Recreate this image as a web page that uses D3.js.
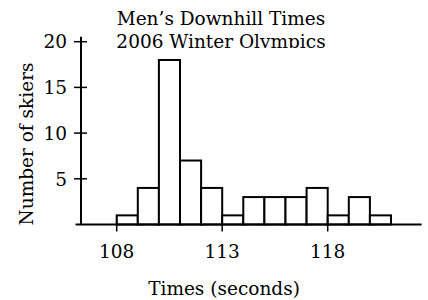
<!DOCTYPE html>
<html>
<head>
<meta charset="utf-8">
<script src="https://cdn.jsdelivr.net/npm/d3@7"></script>
<style>
  body { margin: 0; background: #fff; }
  text { font-family: "DejaVu Serif", "Liberation Serif", serif; fill: #000; }
</style>
</head>
<body>
<svg id="chart" width="428" height="300"></svg>
<script>
// histogram bins (seconds) and number of skiers in each
const binStarts = [108, 109, 110, 111, 112, 113, 114, 115, 116, 117, 118, 119, 120];
const counts    = [1, 4, 18, 7, 4, 1, 3, 3, 3, 4, 1, 3, 1];
const xTicks = [108, 113, 118];
const yTicks = [5, 10, 15, 20];
const titleLines = ["Men\u2019s Downhill Times", "2006 Winter Olympics"];

const svg = d3.select("#chart");
const fs = 18.5;

const x = d3.scaleLinear().domain([108, 118]).range([116.7, 327.7]);
const y = d3.scaleLinear().domain([0, 20]).range([224.5, 41.7]);

// title (second line gets its descenders cut, like the original)
svg.append("defs").append("clipPath").attr("id", "titleclip")
    .append("rect").attr("x", 0).attr("y", 0).attr("width", 428).attr("height", 48);

svg.append("g").attr("clip-path", "url(#titleclip)")
    .selectAll("text")
    .data(titleLines)
    .enter().append("text")
    .attr("x", 221)
    .attr("y", (d, i) => 25 + i * 22.7)
    .attr("text-anchor", "middle")
    .attr("font-size", fs)
    .text(d => d);

// bars
svg.append("g")
    .selectAll("rect")
    .data(binStarts)
    .enter().append("rect")
    .attr("x", d => x(d))
    .attr("y", (d, i) => y(counts[i]))
    .attr("width", d => x(d + 1) - x(d))
    .attr("height", (d, i) => y(0) - y(counts[i]))
    .attr("fill", "#fff")
    .attr("stroke", "#000")
    .attr("stroke-width", 2);

// axes
const axisX0 = 81;
svg.append("line")
    .attr("x1", x(106.05)).attr("x2", x(122.45))
    .attr("y1", y(0)).attr("y2", y(0))
    .attr("stroke", "#000").attr("stroke-width", 2);
svg.append("line")
    .attr("x1", axisX0).attr("x2", axisX0)
    .attr("y1", y(0)).attr("y2", y(20.55))
    .attr("stroke", "#000").attr("stroke-width", 2);

svg.append("g")
    .selectAll("line")
    .data(yTicks)
    .enter().append("line")
    .attr("x1", axisX0 - 7).attr("x2", axisX0 + 6)
    .attr("y1", d => y(d)).attr("y2", d => y(d))
    .attr("stroke", "#000").attr("stroke-width", 1.5);

svg.append("g")
    .selectAll("text")
    .data(yTicks)
    .enter().append("text")
    .attr("x", 67)
    .attr("y", d => y(d) + 6.7)
    .attr("text-anchor", "end")
    .attr("font-size", fs)
    .text(d => d);

svg.append("g")
    .selectAll("line")
    .data(xTicks)
    .enter().append("line")
    .attr("x1", d => x(d)).attr("x2", d => x(d))
    .attr("y1", y(0) - 6).attr("y2", y(0) + 7)
    .attr("stroke", "#000").attr("stroke-width", 1.5);

svg.append("g")
    .selectAll("text")
    .data(xTicks)
    .enter().append("text")
    .attr("x", d => x(d))
    .attr("y", 258)
    .attr("text-anchor", "middle")
    .attr("font-size", fs)
    .text(d => d);

// axis titles
svg.append("text")
    .attr("x", 224).attr("y", 295)
    .attr("text-anchor", "middle")
    .attr("font-size", fs)
    .text("Times (seconds)");

svg.append("text")
    .attr("transform", "translate(33,144) rotate(-90)")
    .attr("text-anchor", "middle")
    .attr("font-size", fs)
    .text("Number of skiers");
</script>
</body>
</html>
